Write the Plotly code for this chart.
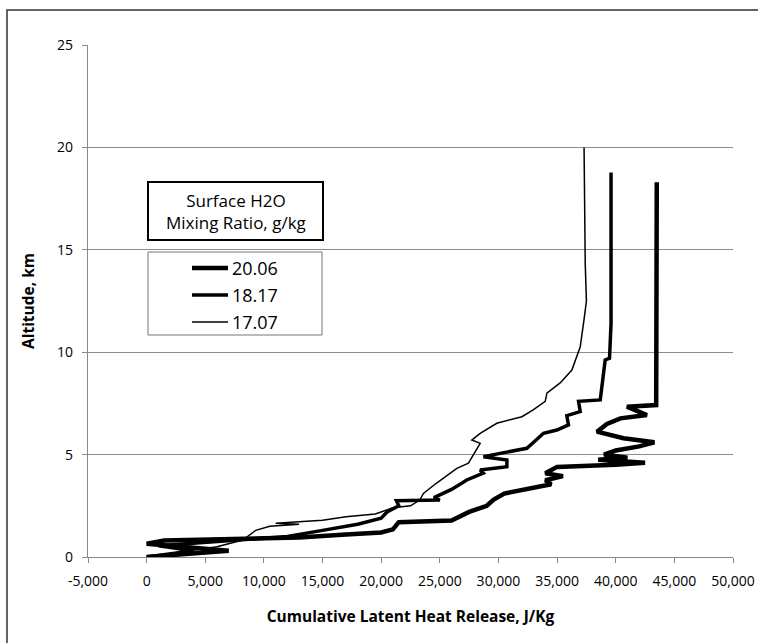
import plotly.graph_objects as go

# Cumulative latent heat release profiles (J/kg) versus altitude (km)
# for three surface water-vapour mixing ratios.
series_names = ["20.06", "18.17", "17.07"]

heat_2006 = [0, 7000, 1000, 0, 1500, 9000, 13000, 17000, 20000, 21000, 21500, 26000,
             27500, 29000, 29600, 30500, 32500, 34500, 34000, 35500, 34000, 35000,
             40000, 42500, 38500, 41000, 39000, 40000, 42000, 43300, 40660, 38400,
             39250, 40400, 42660, 40950, 43450, 43450, 43500, 43500]
alt_2006 = [0.0, 0.31, 0.6, 0.65, 0.8, 0.87, 0.95, 1.1, 1.2, 1.35, 1.7, 1.78,
            2.2, 2.5, 2.8, 3.1, 3.3, 3.55, 3.75, 3.95, 4.09, 4.4,
            4.5, 4.6, 4.75, 4.85, 5.0, 5.2, 5.4, 5.6, 5.8, 6.12,
            6.5, 6.77, 6.93, 7.34, 7.42, 9.47, 9.7, 18.3]

heat_1817 = [0, 4000, 1000, 6000, 12000, 15000, 18000, 20000, 20500, 21500, 21300,
             25000, 24500, 26000, 27300, 28700, 28440, 30720, 30720, 28720, 32420,
             33000, 33840, 34980, 35970, 35830, 36970, 36830, 38680, 39100, 39470,
             39600, 39600]
alt_1817 = [0.0, 0.3, 0.55, 0.75, 1.0, 1.3, 1.6, 1.9, 2.2, 2.5, 2.75,
            2.78, 2.9, 3.3, 3.76, 4.1, 4.25, 4.41, 4.74, 4.9, 5.31,
            5.6, 6.04, 6.2, 6.45, 6.9, 7.1, 7.6, 7.67, 9.62, 9.7,
            11.4, 18.78]

heat_1707 = [0, 3000, 6000, 8200, 9300, 10500, 13000, 11000, 15000, 17000, 19500,
             21000, 22500, 23300, 23600, 24700, 25300, 26450, 27440, 28010, 28440,
             27730, 28440, 29860, 32000, 32960, 33990, 34130, 35260, 36260, 36970,
             37300, 37500, 37400, 37300, 37300]
alt_1707 = [0.0, 0.25, 0.5, 0.83, 1.3, 1.5, 1.6, 1.65, 1.8, 1.97, 2.1,
            2.4, 2.5, 2.78, 3.1, 3.6, 3.84, 4.33, 4.58, 5.14, 5.55,
            5.71, 6.04, 6.53, 6.85, 7.18, 7.6, 8.0, 8.5, 9.13, 10.25,
            11.6, 12.5, 14.3, 18.5, 20.0]

x_tickvals = list(range(-5000, 50001, 5000))
x_ticktext = [f"{v:,}" for v in x_tickvals]
y_tickvals = [0, 5, 10, 15, 20, 25]

line_widths = [4.5, 3.5, 1.5]
curves = [(heat_2006, alt_2006), (heat_1817, alt_1817), (heat_1707, alt_1707)]

fig = go.Figure()
for name, (xs, ys), w in zip(series_names, curves, line_widths):
    fig.add_trace(go.Scatter(x=xs, y=ys, mode="lines", name=name,
                             line=dict(color="black", width=w),
                             showlegend=False))

W, H = 758, 643
L, R, T, B = 88, 733, 45, 557


def px(x):
    return (x - L) / (R - L)


def py(y):
    return (B - y) / (B - T)


tick_font = dict(family="Open Sans", size=14, color="black")
title_font = dict(family="Open Sans", size=15.5, color="black")

fig.update_layout(
    width=W, height=H,
    margin=dict(l=L, r=W - R, t=T, b=H - B, autoexpand=False),
    paper_bgcolor="white", plot_bgcolor="white",
    font=dict(family="Open Sans", color="black"),
    xaxis=dict(range=[-5000, 50000], tickvals=x_tickvals, ticktext=x_ticktext,
               automargin=False,
               showgrid=False, zeroline=False, showline=True,
               linecolor="#888888", linewidth=1.3, ticks="outside",
               ticklen=5, tickcolor="#888888", tickfont=tick_font,
               ticklabelstandoff=6,
               title=dict(text="<b>Cumulative Latent Heat Release, J/Kg</b>",
                          font=title_font, standoff=22)),
    yaxis=dict(range=[0, 25], tickvals=y_tickvals, showgrid=True,
               automargin=False,
               gridcolor="#8c8c8c", gridwidth=1.4, zeroline=False,
               showline=True, linecolor="#888888", linewidth=1.3,
               ticks="outside", ticklen=5, tickcolor="#888888",
               tickfont=tick_font, ticklabelstandoff=6,
               title=dict(text="<b>Altitude, km</b>", font=title_font,
                          standoff=18)),
)

shapes = []
# chart frame
shapes.append(dict(type="rect", xref="paper", yref="paper",
                   x0=px(7), x1=px(775), y0=py(10), y1=py(660),
                   line=dict(color="#333333", width=1.5), layer="below"))
# legend title box
shapes.append(dict(type="rect", xref="paper", yref="paper",
                   x0=px(148), x1=px(323), y0=py(182), y1=py(240),
                   line=dict(color="black", width=2), fillcolor="white"))
# legend entries box
shapes.append(dict(type="rect", xref="paper", yref="paper",
                   x0=px(148), x1=px(322), y0=py(252), y1=py(335),
                   line=dict(color="#777777", width=1), fillcolor="white"))
annotations = [
    dict(xref="paper", yref="paper", x=px(235.5), y=py(211), showarrow=False,
         text="Surface H2O<br>Mixing Ratio, g/kg",
         font=dict(family="Open Sans", size=17, color="black"),
         xanchor="center", yanchor="middle", align="center"),
]
entry_y = [268, 295, 322]
for name, w, ey in zip(series_names, line_widths, entry_y):
    shapes.append(dict(type="line", xref="paper", yref="paper",
                       x0=px(192), x1=px(228), y0=py(ey), y1=py(ey),
                       line=dict(color="black", width=w)))
    annotations.append(dict(xref="paper", yref="paper", x=px(230), y=py(ey),
                            text=name, showarrow=False, xanchor="left",
                            yanchor="middle",
                            font=dict(family="Open Sans", size=18,
                                      color="black")))

fig.update_layout(shapes=shapes, annotations=annotations)
fig.write_html("out.html")
